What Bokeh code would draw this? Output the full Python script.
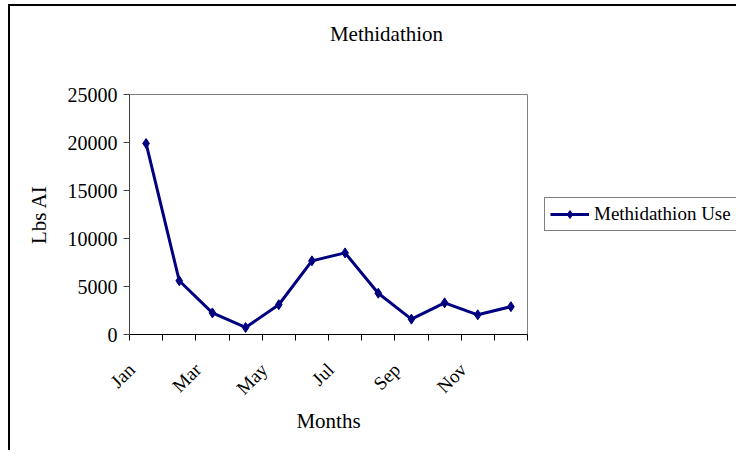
import math
from bokeh.plotting import figure
from bokeh.layouts import row
from bokeh.models import (Range1d, FixedTicker, Legend, LegendItem, Label)
from bokeh.embed import file_html
from bokeh.resources import INLINE

months = ["Jan", "Feb", "Mar", "Apr", "May", "Jun",
          "Jul", "Aug", "Sep", "Oct", "Nov", "Dec"]
usage = [19900, 5600, 2250, 730, 3100, 7670, 8500, 4300, 1600, 3300, 2050, 2900]
shown_labels = ["Jan", "Mar", "May", "Jul", "Sep", "Nov"]
y_ticks = [0, 5000, 10000, 15000, 20000, 25000]
series_name = "Methidathion Use"
title_text = "Methidathion"

FONT = "Liberation Serif"
NAVY = "#000080"
LABEL_SHIFT = 0.4375  # rotated labels end slightly left of the category centre

xs = list(range(1, len(months) + 1))

p = figure(width=540, height=450, output_backend="svg", toolbar_location=None,
           x_range=Range1d(0.5, len(months) + 0.5), y_range=Range1d(0, 25000),
           min_border_left=129, min_border_right=13, min_border_top=94,
           min_border_bottom=116)
p.background_fill_color = "white"
p.border_fill_color = None
p.outline_line_color = "#808080"
p.outline_line_width = 1
p.grid.visible = False

p.add_layout(Label(x=257, y=61, x_units="screen", y_units="screen",
                   text=title_text, text_font=FONT, text_font_size="21px",
                   text_align="center", text_baseline="middle",
                   text_color="black"), "above")

# x axis: boundary ticks as minor ticks, labels near category centres
label_pos = [xs[months.index(m)] - LABEL_SHIFT for m in shown_labels]
p.xaxis.ticker = FixedTicker(ticks=label_pos,
                             minor_ticks=[x - 0.5 for x in xs] + [xs[-1] + 0.5])
p.xaxis.major_label_overrides = {
    xs[months.index(m)] - LABEL_SHIFT: m for m in shown_labels}
p.xaxis.major_tick_line_color = None
p.xaxis.minor_tick_in = 0
p.xaxis.minor_tick_out = 6
p.xaxis.minor_tick_line_color = "black"
p.xaxis.axis_line_color = "black"
p.xaxis.major_label_orientation = math.pi / 4
p.xaxis.major_label_standoff = 26
p.xaxis.major_label_text_font = FONT
p.xaxis.major_label_text_font_size = "19px"
p.xaxis.major_label_text_color = "black"
p.xaxis.axis_label = "Months"
p.xaxis.axis_label_text_font = FONT
p.xaxis.axis_label_text_font_size = "21px"
p.xaxis.axis_label_text_font_style = "normal"
p.xaxis.axis_label_text_color = "black"
p.xaxis.axis_label_standoff = 0

p.yaxis.ticker = FixedTicker(ticks=y_ticks)
p.yaxis.minor_tick_line_color = None
p.yaxis.major_tick_in = 0
p.yaxis.major_tick_out = 6
p.yaxis.major_tick_line_color = "#404040"
p.yaxis.axis_line_color = "#404040"
p.yaxis.major_label_standoff = 6
p.yaxis.major_label_text_font = FONT
p.yaxis.major_label_text_font_size = "20px"
p.yaxis.major_label_text_color = "black"
p.yaxis.axis_label = "Lbs AI"
p.yaxis.axis_label_text_font = FONT
p.yaxis.axis_label_text_font_size = "21px"
p.yaxis.axis_label_text_font_style = "normal"
p.yaxis.axis_label_text_color = "black"
p.yaxis.axis_label_standoff = 14

p.line(xs, usage, line_color=NAVY, line_width=3)
p.scatter(xs, usage, marker="diamond", size=10, fill_color=NAVY,
          line_color=NAVY)

# legend panel (separate canvas so it is not clipped by the plot frame);
# it holds the same series, kept outside its visible range
q = figure(width=196, height=450, output_backend="svg", toolbar_location=None,
           x_range=Range1d(-2, -1), y_range=Range1d(0, 25000),
           x_axis_type=None, y_axis_type=None,
           min_border_left=0, min_border_right=0, min_border_top=0,
           min_border_bottom=26)
q.background_fill_color = None
q.border_fill_color = None
q.outline_line_color = None
q.grid.visible = False
l_line = q.line(xs, usage, line_color=NAVY, line_width=3)
l_pts = q.scatter(xs, usage, marker="diamond", size=10, fill_color=NAVY,
                  line_color=NAVY)
legend = Legend(items=[LegendItem(label=series_name, renderers=[l_line, l_pts])],
                location="left", border_line_color="black",
                border_line_width=1, background_fill_color="white",
                padding=5, margin=4, spacing=0, glyph_width=39,
                glyph_height=20, label_standoff=5, label_height=20,
                label_text_font=FONT, label_text_font_size="19px",
                label_text_color="black")
q.add_layout(legend, "center")

layout = row(p, q, spacing=0)
layout.styles = {
    "background": ("linear-gradient(black, black) 8px 4px / 2px 100% no-repeat, "
                   "linear-gradient(black, black) 8px 4px / 100% 2px no-repeat, "
                   "white"),
}

open("out.html", "w").write(file_html(layout, INLINE))
